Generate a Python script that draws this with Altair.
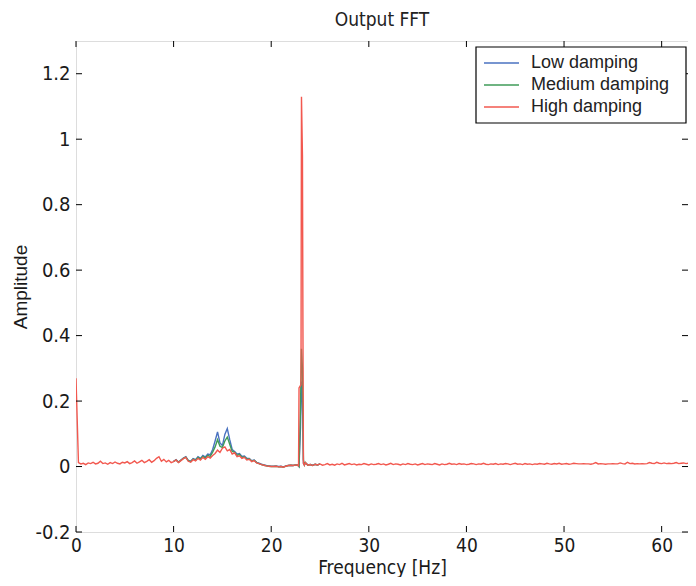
import altair as alt
import pandas as pd

SERIES = ["Low damping", "Medium damping", "High damping"]
COLORS = ["#4a72c0", "#3f9b58", "#f2584f"]

X_TICKS = [0, 10, 20, 30, 40, 50, 60]
Y_TICKS = [-0.2, 0, 0.2, 0.4, 0.6, 0.8, 1, 1.2]
X_MAX = 62.7
Y_DOMAIN = [-0.2, 1.3]

# ---------------- High damping (red) ----------------
# bins 0 .. 22.75 Hz, step 0.25
red_low = [
    0.270, 0.012, 0.008, 0.010, 0.006, 0.011, 0.009, 0.013, 0.008, 0.010,
    0.016, 0.009, 0.011, 0.007, 0.012, 0.009, 0.014, 0.010, 0.008, 0.013,
    0.011, 0.015, 0.009, 0.012, 0.017, 0.010, 0.014, 0.019, 0.012, 0.016,
    0.021, 0.013, 0.018, 0.025, 0.030, 0.016, 0.022, 0.014, 0.019, 0.012,
    0.015, 0.020, 0.012, 0.018, 0.024, 0.028, 0.016, 0.013, 0.021, 0.017,
    0.025, 0.020, 0.028, 0.022, 0.030, 0.026, 0.034, 0.040, 0.050, 0.043,
    0.056, 0.060, 0.048, 0.052, 0.038, 0.042, 0.030, 0.033, 0.025, 0.028,
    0.020, 0.022, 0.015, 0.018, 0.011, 0.009, 0.006, 0.004, 0.002, 0.001,
    0.000, 0.000, 0.001, -0.001, 0.000, -0.002, 0.001, 0.003, 0.004, 0.003,
    0.005, 0.004,
]
red_spike_freq = [22.8, 22.85, 23.05, 23.1, 23.2, 23.25, 23.3, 23.4]
red_spike = [0.0, 0.24, 0.25, 1.13, 0.95, 0.42, 0.01, 0.004]
# bins 23.5 .. 62.75 Hz, step 0.25
red_high = [
    0.012, 0.004, 0.006, 0.003, 0.007, 0.005, 0.008, 0.004, 0.006, 0.009,
    0.005, 0.007, 0.004, 0.008, 0.006, 0.010, 0.005, 0.007, 0.009, 0.006,
    0.008, 0.005, 0.007, 0.006, 0.009, 0.007, 0.005, 0.008, 0.006, 0.007,
    0.009, 0.006, 0.008, 0.005, 0.007, 0.010, 0.006, 0.008, 0.007, 0.005,
    0.008, 0.006, 0.009, 0.007, 0.006, 0.008, 0.005, 0.007, 0.009, 0.006,
    0.008, 0.007, 0.006, 0.009, 0.007, 0.005, 0.008, 0.006, 0.007, 0.010,
    0.007, 0.008, 0.006, 0.009, 0.007, 0.008, 0.006, 0.007, 0.009, 0.008,
    0.006, 0.008, 0.007, 0.010, 0.007, 0.006, 0.008, 0.007, 0.009, 0.006,
    0.008, 0.007, 0.009, 0.008, 0.006, 0.008, 0.010, 0.007, 0.008, 0.006,
    0.009, 0.007, 0.008, 0.006, 0.008, 0.007, 0.009, 0.008, 0.007, 0.010,
    0.008, 0.007, 0.009, 0.008, 0.010, 0.007, 0.008, 0.009, 0.007, 0.008,
    0.010, 0.009, 0.008, 0.008, 0.009, 0.008, 0.008, 0.007, 0.009, 0.012,
    0.008, 0.009, 0.008, 0.007, 0.008, 0.008, 0.009, 0.008, 0.008, 0.011,
    0.009, 0.008, 0.013, 0.009, 0.010, 0.008, 0.009, 0.008, 0.009, 0.008,
    0.009, 0.012, 0.010, 0.009, 0.013, 0.010, 0.009, 0.011, 0.009, 0.010,
    0.009, 0.010, 0.012, 0.009, 0.010, 0.011, 0.009, 0.010,
]

# ---------------- Low damping (blue) ----------------
# bins 10 .. 22.75 Hz, step 0.25
blue_low = [
    0.016, 0.021, 0.014, 0.020, 0.026, 0.030, 0.019, 0.016, 0.024, 0.021,
    0.030, 0.025, 0.034, 0.029, 0.038, 0.036, 0.052, 0.078, 0.106, 0.072,
    0.064, 0.098, 0.116, 0.082, 0.052, 0.046, 0.038, 0.040, 0.031, 0.032,
    0.025, 0.025, 0.018, 0.020, 0.013, 0.010, 0.007, 0.005, 0.003, 0.002,
    0.001, 0.001, 0.002, 0.000, 0.001, -0.001, 0.002, 0.003, 0.004, 0.003,
    0.005, 0.004,
]
bg_spike_freq = [22.85, 23.0, 23.1, 23.2, 23.3, 23.4]
blue_spike = [0.0, 0.12, 0.26, 0.20, 0.01, 0.005]
blue_high = [0.011, 0.005, 0.006, 0.004, 0.007, 0.005, 0.008]

# ---------------- Medium damping (green) ----------------
green_low = [
    0.016, 0.020, 0.013, 0.019, 0.025, 0.029, 0.018, 0.015, 0.023, 0.019,
    0.028, 0.023, 0.031, 0.026, 0.034, 0.031, 0.044, 0.060, 0.082, 0.062,
    0.058, 0.078, 0.090, 0.068, 0.046, 0.044, 0.034, 0.037, 0.028, 0.030,
    0.022, 0.024, 0.016, 0.019, 0.012, 0.009, 0.006, 0.004, 0.002, 0.001,
    0.000, 0.000, 0.001, -0.001, 0.000, -0.002, 0.001, 0.003, 0.004, 0.003,
    0.005, 0.004,
]
green_spike = [0.0, 0.18, 0.36, 0.30, 0.02, 0.005]
green_high = [0.012, 0.004, 0.006, 0.003, 0.007, 0.005, 0.008]


def grid(a, b, step=0.25):
    n = int(round((b - a) / step)) + 1
    return [round(a + i * step, 3) for i in range(n)]


red_freq = grid(0, 22.75) + red_spike_freq + grid(23.5, 62.75)
bg_freq = grid(10, 22.75) + bg_spike_freq + grid(23.5, 25)

df_red = pd.DataFrame({"freq": red_freq, "amp": red_low + red_spike + red_high,
                       "series": SERIES[2]})
df_blue = pd.DataFrame({"freq": bg_freq, "amp": blue_low + blue_spike + blue_high,
                        "series": SERIES[0]})
df_green = pd.DataFrame({"freq": bg_freq, "amp": green_low + green_spike + green_high,
                         "series": SERIES[1]})

W, H = 612, 491
NARROW = "Liberation Sans Narrow, DejaVu Sans Condensed, Liberation Sans, Arial"
REG = "Liberation Sans, Arial"
INK = "#1a1a1a"

x_enc = alt.X(
    "freq:Q",
    scale=alt.Scale(domain=[0, X_MAX], nice=False, zero=False),
    axis=alt.Axis(values=X_TICKS, title="Frequency [Hz]", grid=False, ticks=False,
                  tickSize=0, domain=False, labelFont=NARROW, labelFontSize=19,
                  labelColor=INK, labelPadding=4, titleFont=NARROW,
                  titleFontSize=19, titleFontWeight="normal", titleColor=INK,
                  titleBaseline="middle", titleY=35, titleX=W / 2,
                  labelFlush=False, labelOverlap=False),
)
y_enc = alt.Y(
    "amp:Q",
    scale=alt.Scale(domain=Y_DOMAIN, nice=False, zero=False),
    axis=alt.Axis(values=Y_TICKS, title="Amplitude", grid=False, ticks=False,
                  tickSize=0, domain=False, labelFont=NARROW, labelFontSize=20,
                  labelColor=INK, labelPadding=6,
                  labelExpr="toString(datum.value)",
                  titleFont=REG, titleFontSize=19, titleFontWeight="normal",
                  titleColor=INK, titleBaseline="middle", titleX=-56,
                  titleY=H / 2, titleAngle=270, labelFlush=False, labelOverlap=False),
)
color_enc = alt.Color("series:N", scale=alt.Scale(domain=SERIES, range=COLORS),
                      legend=None)

lines = [
    alt.Chart(d).mark_line(strokeWidth=1.4, clip=True).encode(
        x=x_enc, y=y_enc, color=color_enc)
    for d in (df_blue, df_green, df_red)
]

xt = pd.DataFrame({"freq": X_TICKS})
yt = pd.DataFrame({"amp": Y_TICKS})
tick_bottom = alt.Chart(xt).mark_rule(color="black", strokeWidth=1).encode(
    x=x_enc, y=alt.value(H), y2=alt.value(H - 6))
tick_top = alt.Chart(xt).mark_rule(color="black", strokeWidth=1).encode(
    x=x_enc, y=alt.value(0), y2=alt.value(6))
tick_left = alt.Chart(yt).mark_rule(color="black", strokeWidth=1).encode(
    y=y_enc, x=alt.value(0), x2=alt.value(6))
tick_right = alt.Chart(yt).mark_rule(color="black", strokeWidth=1).encode(
    y=y_enc, x=alt.value(W), x2=alt.value(W - 6))

# ---- title (drawn as text so its placement is exact) ----
title_layer = alt.Chart(pd.DataFrame({"t": ["Output FFT"]})).mark_text(
    font=NARROW, fontSize=19, color="#222222", align="center",
    baseline="alphabetic").encode(text="t:N", x=alt.value(W / 2), y=alt.value(-15))

# ---- legend box, drawn by hand ----
LX0, LY0, LW, LH = 400, 6, 210, 76
legend_layers = [
    alt.Chart(pd.DataFrame({"k": [0]})).mark_rect(
        fill="white", stroke="black", strokeWidth=1.2).encode(
        x=alt.value(LX0), x2=alt.value(LX0 + LW),
        y=alt.value(LY0), y2=alt.value(LY0 + LH))
]
for i, (name, col) in enumerate(zip(SERIES, COLORS)):
    yy = LY0 + 16 + 22 * i
    legend_layers.append(
        alt.Chart(pd.DataFrame({"s": [name]})).mark_rule(
            color=col, strokeWidth=1.6).encode(
            x=alt.value(LX0 + 8), x2=alt.value(LX0 + 43), y=alt.value(yy)))
    legend_layers.append(
        alt.Chart(pd.DataFrame({"s": [name]})).mark_text(
            font=REG, fontSize=18, color="#222222", align="left",
            baseline="middle").encode(
            text="s:N", x=alt.value(LX0 + 55), y=alt.value(yy)))

chart = alt.layer(*lines, tick_bottom, tick_top, tick_left, tick_right,
                  title_layer, *legend_layers).properties(
    width=W,
    height=H,
    autosize=alt.AutoSizeParams(type="none"),
    padding={"left": 68, "top": 33, "right": 0, "bottom": 45},
).configure_view(stroke="black", strokeWidth=1.2).configure(background="white")

chart.save("out.html", embed_options={"renderer": "svg", "actions": False})
